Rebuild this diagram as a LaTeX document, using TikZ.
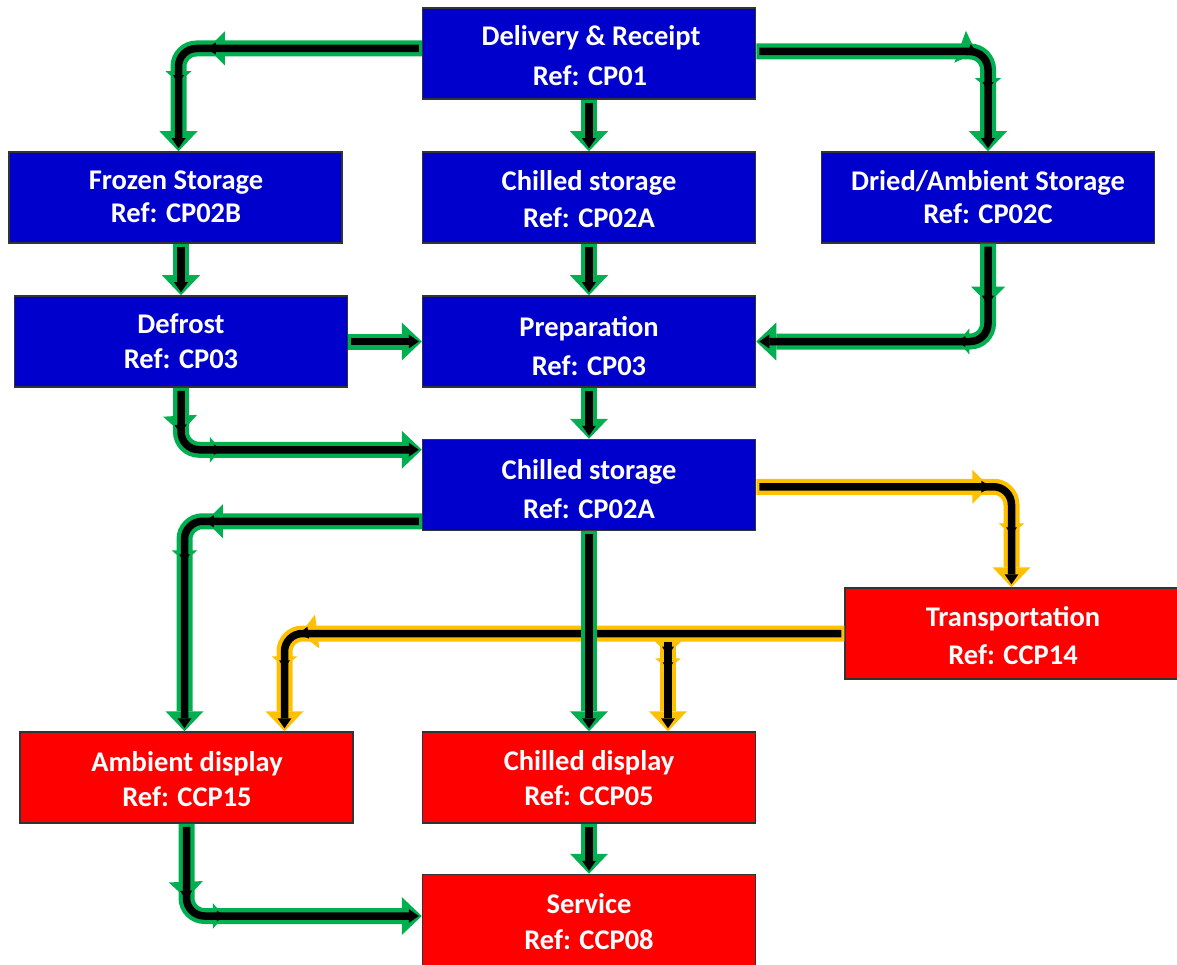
\documentclass[tikz,border=0pt]{standalone}
\usepackage{fontspec}
\setmainfont{Carlito}
\usetikzlibrary{arrows.meta,calc,decorations.markings}
\definecolor{bblue}{HTML}{0000CC}
\definecolor{rred}{HTML}{FF0000}
\definecolor{ggreen}{HTML}{00B050}
\definecolor{ggold}{HTML}{FFC000}
\tikzset{
  gbig/.style={postaction={decorate,decoration={markings,mark=at position #1 with {\fill[sharp corners] (0pt,0pt) -- (-17pt,17pt) -- (-17pt,-17pt) -- cycle;}}}},
  gsmall/.style={postaction={decorate,decoration={markings,mark=at position #1 with {\fill[sharp corners] (0pt,0pt) -- (-11pt,13pt) -- (-11pt,-13pt) -- cycle;}}}},
  bbig/.style={postaction={decorate,decoration={markings,mark=at position #1 with {\fill[sharp corners] (2pt,0pt) -- (-8pt,6pt) -- (-8pt,-6pt) -- cycle;}}}},
  bsmall/.style={postaction={decorate,decoration={markings,mark=at position #1 with {\fill[sharp corners] (1pt,0pt) -- (-7pt,5.5pt) -- (-7pt,-5.5pt) -- cycle;}}}},
  outer/.style={line width=16pt,rounded corners=18pt,-{Triangle[width=38pt,length=20pt,line width=0pt]}},
  inner/.style={line width=7.5pt,black,rounded corners=18pt,shorten >=3pt,shorten <=3pt,-{Triangle[width=14pt,length=10pt,line width=0pt]}}
}
\newcommand\flowarrow[2]{%
  \draw[outer,#1] #2;
  \draw[inner] #2;}
\newcommand\elbowarrow[4]{%
  \draw[outer,#1,gbig=#3,gsmall=#4] #2;
  \draw[inner,bbig=#3,bsmall=#4] #2;}
\begin{document}
\begin{tikzpicture}[x=1pt,y=-1pt,
  box/.style={draw=black!80,line width=1.5pt,minimum width=333pt,minimum height=91pt,inner sep=0pt},
  bluebox/.style={box,fill=bblue},
  redbox/.style={box,fill=rred},
  lbl/.style={text=white,font=\bfseries\fontsize{28.5}{32}\selectfont,anchor=base,inner sep=0pt}]
\useasboundingbox (0,0) rectangle (1177,965);
% boxes
\node[bluebox] (deliv) at (589,53.5) {};
\node[bluebox] (frozen) at (175.5,197.5) {};
\node[bluebox] (chill1) at (589,197.5) {};
\node[bluebox] (dried) at (988,197.5) {};
\node[bluebox] (defrost) at (181,341.5) {};
\node[bluebox] (prep) at (589,341.5) {};
\node[bluebox] (chill2) at (589,485) {};
\node[redbox] (transp) at (1011.5,633.5) {};
\node[redbox] (ambient) at (186.5,777.5) {};
\node[redbox] (chdisp) at (589,777.5) {};
\node[redbox] (service) at (589,920) {};
% labels
\node[lbl] (t1a) at (591,46) {Delivery \& Receipt};
\node[lbl] (t1b) at (590,86) {Ref: CP01};
\node[lbl] (t2a) at (176,190) {Frozen Storage};
\node[lbl] (t2b) at (176,223) {Ref: CP02B};
\node[lbl] (t3a) at (589,191) {Chilled storage};
\node[lbl] (t3b) at (589,228) {Ref: CP02A};
\node[lbl] (t4a) at (988,191) {Dried/Ambient Storage};
\node[lbl] (t4b) at (988,224) {Ref: CP02C};
\node[lbl] (t5a) at (181,334) {Defrost};
\node[lbl] (t5b) at (181,368) {Ref: CP03};
\node[lbl] (t6a) at (589,336) {Preparation};
\node[lbl] (t6b) at (589,375) {Ref: CP03};
\node[lbl] (t7a) at (589,479) {Chilled storage};
\node[lbl] (t7b) at (589,518) {Ref: CP02A};
\node[lbl] (t8a) at (1013,626) {Transportation};
\node[lbl] (t8b) at (1013,664) {Ref: CCP14};
\node[lbl] (t9a) at (187,771) {Ambient display};
\node[lbl] (t9b) at (187,806) {Ref: CCP15};
\node[lbl] (t10a) at (589,770) {Chilled display};
\node[lbl] (t10b) at (589,805) {Ref: CCP05};
\node[lbl] (t11a) at (589,913) {Service};
\node[lbl] (t11b) at (589,949) {Ref: CCP08};
% helper coordinates
\coordinate (delw) at ($(deliv.west)+(0,-5)$);
\coordinate (dele) at ($(deliv.east)+(0,-2)$);
\coordinate (frtop) at ($(frozen.north)+(3,0)$);
\coordinate (c2in) at ($(chill2.north west)+(0,11)$);
\coordinate (c2outl) at ($(chill2.south west)+(0,-10)$);
\coordinate (c2outr) at ($(chill2.north east)+(0,48)$);
\coordinate (amtop) at ($(ambient.north)+(98,0)$);
\coordinate (amgreen) at ($(ambient.north)+(-2,0)$);
\coordinate (cdtop) at ($(chdisp.north)+(79,0)$);
\coordinate (branch0) at (cdtop |- transp.west);
\coordinate (branch) at ($(branch0)+(0,5)$);
\coordinate (svin) at ($(service.west)+(0,-4)$);
% connectors
\elbowarrow{ggreen}{(delw) -| (frtop)}{214pt}{-69pt}
\elbowarrow{ggreen}{(dele) -| (dried.north)}{220pt}{-62pt}
\flowarrow{ggreen}{(deliv.south) -- (chill1.north)}
\flowarrow{ggreen}{(defrost.north |- frozen.south) -- (defrost.north)}
\flowarrow{ggreen}{(chill1.south) -- (prep.north)}
\elbowarrow{ggreen}{(dried.south) |- (prep.east)}{60pt}{-202pt}
\flowarrow{ggreen}{(defrost.east) -- (prep.west)}
\elbowarrow{ggreen}{(defrost.south) |- (c2in)}{45pt}{-201pt}
\flowarrow{ggreen}{(prep.south) -- (chill2.north)}
\elbowarrow{ggreen}{(c2outl) -| (amgreen)}{216pt}{-170pt}
\elbowarrow{ggold}{(c2outr) -| (transp.north)}{233pt}{-53pt}
\elbowarrow{ggold}{(branch) -- (cdtop)}{16pt}{-62pt}
\elbowarrow{ggold}{(transp.west) -| (amtop)}{544pt}{-64pt}
\flowarrow{ggreen}{(chill2.south) -- (chdisp.north)}
\elbowarrow{ggreen}{(ambient.south) |- (svin)}{75pt}{-198pt}
\flowarrow{ggreen}{(chdisp.south) -- (service.north)}
\end{tikzpicture}
\end{document}
